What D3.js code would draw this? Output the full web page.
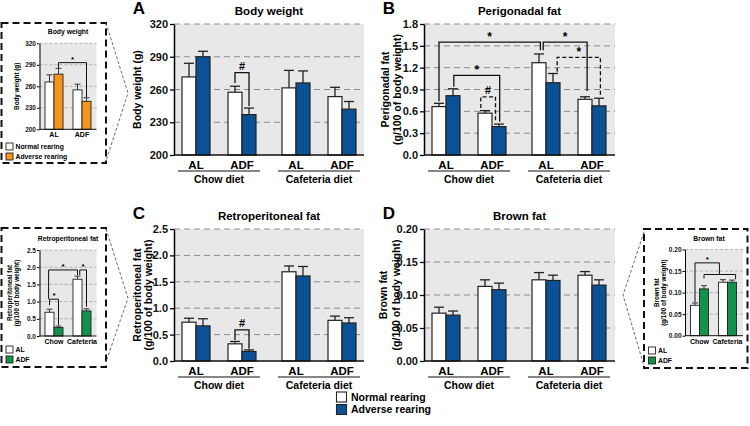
<!DOCTYPE html>
<html>
<head>
<meta charset="utf-8">
<script src="https://cdn.jsdelivr.net/npm/d3@7"></script>
<style>
  body { margin: 0; background: #fff; }
  svg { font-family: Arial, "Liberation Sans", sans-serif; font-weight: bold; }
</style>
</head>
<body>
<svg id="fig" width="750" height="426"></svg>
<script>
// categories
const feeding = ["AL", "ADF"];
const diets = ["Chow diet", "Cafeteria diet"];
const rearing = ["Normal rearing", "Adverse rearing"];
const insetDiets = ["Chow", "Cafeteria"];

// order of values: Chow AL, Chow ADF, Cafeteria AL, Cafeteria ADF
const bwNormal = [271.5, 257.5, 261.5, 253.5];
const bwNormalSem = [12.5, 5.5, 16, 8.5];
const bwAdverse = [290, 237, 266, 242];
const bwAdverseSem = [5, 6, 11, 7];

const periNormal = [0.665, 0.575, 1.268, 0.765];
const periNormalSem = [0.045, 0.035, 0.12, 0.035];
const periAdverse = [0.815, 0.39, 0.993, 0.675];
const periAdverseSem = [0.095, 0.035, 0.127, 0.105];

const retroNormal = [0.735, 0.325, 1.69, 0.77];
const retroNormalSem = [0.075, 0.045, 0.11, 0.08];
const retroAdverse = [0.665, 0.18, 1.61, 0.72];
const retroAdverseSem = [0.135, 0.03, 0.18, 0.1];

const brownNormal = [0.0725, 0.113, 0.123, 0.130];
const brownNormalSem = [0.009, 0.010, 0.011, 0.0055];
const brownAdverse = [0.0695, 0.108, 0.122, 0.115];
const brownAdverseSem = [0.0062, 0.010, 0.008, 0.008];

// insets: two groups each
const inBwNormal = [266, 255], inBwNormalSem = [10, 8];
const inBwAdverse = [277, 239], inBwAdverseSem = [8, 5];
const inRetroAL = [0.69, 1.65], inRetroALSem = [0.09, 0.09];
const inRetroADF = [0.25, 0.73], inRetroADFSem = [0.04, 0.06];
const inBrownAL = [0.0705, 0.124], inBrownALSem = [0.0055, 0.006];
const inBrownADF = [0.1086, 0.124], inBrownADFSem = [0.0074, 0.005];

// significance brackets: a/b = [bar index, series, fraction across bar]
const bwMarks = [
  { a: [1, 0, 0.5], b: [1, 1, 0.5], top: 275.5, legA: 266, legB: 245, label: "#", dash: false }
];
const periMarks = [
  { a: [0, 0, 0.5], b: [2, 0, 0.6], top: 1.552, legA: 0.74, legB: 1.44, label: "*", dash: false },
  { a: [2, 0, 0.8], b: [3, 0, 0.65], top: 1.552, legA: 1.44, legB: 0.88, label: "*", dash: false },
  { a: [2, 1, 0.8], b: [3, 1, 0.6], top: 1.342, legA: 1.144, legB: 0.80, label: "*", dash: true },
  { a: [0, 1, 0.56], b: [1, 1, 0.55], top: 1.095, legA: 0.938, legB: 0.457, label: "*", dash: false },
  { a: [1, 0, 0.2], b: [1, 1, 0.25], top: 0.80, legA: 0.646, legB: 0.457, label: "#", dash: true }
];
const retroMarks = [
  { a: [1, 0, 0.5], b: [1, 1, 0.5], top: 0.59, legA: 0.40, legB: 0.23, label: "#", dash: false }
];
const inBwMarks = [
  { a: [0, 1, 0.5], b: [1, 1, 0.5], top: 293, legA: 285.5, legB: 245, label: "*" }
];
const inRetroMarks = [
  { a: [0, 0, 0.5], b: [0, 1, 0.5], top: 1.07, legA: 0.90, legB: 0.32, label: "*" },
  { a: [0, 0, 0.4], b: [1, 0, 0.5], top: 1.92, legA: 1.07, legB: 1.77, label: "*" },
  { a: [1, 0, 0.75], b: [1, 1, 0.5], top: 1.92, legA: 1.77, legB: 0.85, label: "*" }
];
const inBrownMarks = [
  { a: [0, 0, 0.5], b: [1, 0, 0.1], top: 0.169, legA: 0.078, legB: 0.142, label: "*" },
  { a: [0, 1, 0.5], b: [1, 1, 0.9], top: 0.142, legA: 0.133, legB: 0.131, label: "" }
];

const gray = "#e8e8e8", blue = "#0c5196", orange = "#f7941e", green = "#13924c";

const svg = d3.select("#fig");

function panel(cfg) {
  const g = svg.append("g").attr("transform", `translate(${cfg.left},${cfg.top})`);
  const w = cfg.width, h = cfg.height;
  const y = d3.scaleLinear().domain(cfg.domain).range([h, 0]);
  const ticks = d3.range(cfg.domain[0], cfg.domain[1] + cfg.step / 2, cfg.step);

  g.append("rect").attr("width", w).attr("height", h).attr("fill", gray);
  g.selectAll(".grid").data(ticks.slice(1)).join("line")
    .attr("x1", 0).attr("x2", w)
    .attr("y1", d => y(d)).attr("y2", d => y(d))
    .attr("stroke", "#8c8c8c").attr("stroke-width", 1).attr("stroke-dasharray", "6,4");

  const bw = 14;
  const cx = i => 22 + Math.floor(i / 2) * 100 + (i % 2) * 46;
  const barLeft = (i, k) => cx(i) - bw + k * bw;
  const series = [
    { vals: cfg.normal, sem: cfg.normalSem, fill: "#fff" },
    { vals: cfg.adverse, sem: cfg.adverseSem, fill: blue }
  ];
  series.forEach((s, k) => {
    s.vals.forEach((v, i) => {
      const x0 = barLeft(i, k), xm = x0 + bw / 2;
      g.append("line").attr("x1", xm).attr("x2", xm)
        .attr("y1", y(v)).attr("y2", y(v + s.sem[i])).attr("stroke", "#222").attr("stroke-width", 1.3);
      g.append("line").attr("x1", xm - 5).attr("x2", xm + 5)
        .attr("y1", y(v + s.sem[i])).attr("y2", y(v + s.sem[i])).attr("stroke", "#222").attr("stroke-width", 1.3);
      g.append("rect").attr("x", x0).attr("y", y(v)).attr("width", bw).attr("height", h - y(v))
        .attr("fill", s.fill).attr("stroke", "#222").attr("stroke-width", 1.2);
    });
  });

  const ax = g.append("g").call(d3.axisLeft(y).tickValues(ticks).tickFormat(d3.format(cfg.fmt)).tickSize(4).tickSizeOuter(0));
  ax.select(".domain").attr("stroke-width", 1.5);
  ax.selectAll(".tick line").attr("stroke-width", 1.3);
  ax.selectAll("text").attr("font-size", 11).attr("font-weight", "bold").attr("fill", "#111").attr("x", -6);
  g.append("line").attr("x1", 0).attr("x2", w).attr("y1", h).attr("y2", h).attr("stroke", "#111").attr("stroke-width", 1.5);

  // x labels
  d3.range(4).forEach(i => {
    g.append("text").attr("x", cx(i)).attr("y", h + 13.5).attr("text-anchor", "middle")
      .attr("font-size", 11.5).text(feeding[i % 2]);
  });
  diets.forEach((d, j) => {
    const mid = 22 + j * 100 + 23;
    g.append("line").attr("x1", mid - 41).attr("x2", mid + 41).attr("y1", h + 16).attr("y2", h + 16)
      .attr("stroke", "#111").attr("stroke-width", 1.2);
    g.append("text").attr("x", mid).attr("y", h + 27.5).attr("text-anchor", "middle")
      .attr("font-size", 10.5).text(d);
  });

  // brackets
  const ptx = p => barLeft(p[0], p[1]) + p[2] * bw;
  cfg.marks.forEach(m => {
    const xa = ptx(m.a), xb = ptx(m.b);
    g.append("path")
      .attr("d", `M${xa},${y(m.legA)}V${y(m.top)}H${xb}V${y(m.legB)}`)
      .attr("fill", "none").attr("stroke", "#111").attr("stroke-width", 1.3)
      .attr("stroke-dasharray", m.dash ? "4,2.5" : null);
    g.append("text").attr("x", (xa + xb) / 2).attr("y", y(m.top) - (m.label === "*" ? 1 : 3))
      .attr("text-anchor", "middle").attr("font-size", m.label === "*" ? 12 : 11).text(m.label);
  });

  // titles
  g.append("text").attr("x", w / 2).attr("y", -9).attr("text-anchor", "middle").attr("font-size", 11.5).text(cfg.title);
  g.append("text").attr("x", -35).attr("y", -10).attr("text-anchor", "middle").attr("font-size", 17).text(cfg.letter);
  cfg.ylabel.forEach((t, j) => {
    const xo = cfg.ylabelX[j];
    g.append("text").attr("transform", `translate(${xo},${h / 2}) rotate(-90)`)
      .attr("text-anchor", "middle").attr("dy", "0.35em").attr("font-size", 10.5).text(t);
  });
}

function inset(cfg) {
  const [bx1, by1, bx2, by2] = cfg.box;
  svg.append("rect").attr("x", bx1).attr("y", by1).attr("width", bx2 - bx1).attr("height", by2 - by1)
    .attr("fill", "none").attr("stroke", "#111").attr("stroke-width", 2).attr("stroke-dasharray", "7,4");
  svg.append("path").attr("d", cfg.connector).attr("fill", "none").attr("stroke", "#444")
    .attr("stroke-width", 0.8).attr("stroke-dasharray", "3,2");

  const g = svg.append("g").attr("transform", `translate(${cfg.left},${cfg.top})`);
  const w = cfg.width, h = cfg.height;
  const y = d3.scaleLinear().domain(cfg.domain).range([h, 0]);
  const ticks = d3.range(cfg.domain[0], cfg.domain[1] + cfg.step / 2, cfg.step);

  g.append("rect").attr("width", w).attr("height", h).attr("fill", gray);
  g.selectAll(".grid").data(ticks.slice(1)).join("line")
    .attr("x1", 0).attr("x2", w).attr("y1", d => y(d)).attr("y2", d => y(d))
    .attr("stroke", "#999").attr("stroke-width", 0.7).attr("stroke-dasharray", "3,2");

  const bw = 9;
  const cx = j => 14.5 + j * 28;
  const barLeft = (j, k) => cx(j) - bw + k * bw;
  const series = [
    { vals: cfg.s0, sem: cfg.s0Sem, fill: "#fff" },
    { vals: cfg.s1, sem: cfg.s1Sem, fill: cfg.color }
  ];
  series.forEach((s, k) => {
    s.vals.forEach((v, j) => {
      const x0 = barLeft(j, k), xm = x0 + bw / 2;
      g.append("line").attr("x1", xm).attr("x2", xm).attr("y1", y(v)).attr("y2", y(v + s.sem[j]))
        .attr("stroke", "#222").attr("stroke-width", 0.9);
      g.append("line").attr("x1", xm - 3).attr("x2", xm + 3).attr("y1", y(v + s.sem[j])).attr("y2", y(v + s.sem[j]))
        .attr("stroke", "#222").attr("stroke-width", 0.9);
      g.append("rect").attr("x", x0).attr("y", y(v)).attr("width", bw).attr("height", h - y(v))
        .attr("fill", s.fill).attr("stroke", "#222").attr("stroke-width", 0.9);
    });
  });

  const ax = g.append("g").call(d3.axisLeft(y).tickValues(ticks).tickFormat(d3.format(cfg.fmt)).tickSize(2.5).tickSizeOuter(0));
  ax.selectAll("text").attr("font-size", 6.5).attr("font-weight", "bold").attr("fill", "#111").attr("x", -3.5);
  g.append("line").attr("x1", 0).attr("x2", w).attr("y1", h).attr("y2", h).attr("stroke", "#111").attr("stroke-width", 1);

  cfg.groups.forEach((t, j) => {
    g.append("text").attr("x", cx(j)).attr("y", h + 8).attr("text-anchor", "middle").attr("font-size", 7).text(t);
  });

  const ptx = p => barLeft(p[0], p[1]) + p[2] * bw;
  cfg.marks.forEach(m => {
    const xa = ptx(m.a), xb = ptx(m.b);
    g.append("path").attr("d", `M${xa},${y(m.legA)}V${y(m.top)}H${xb}V${y(m.legB)}`)
      .attr("fill", "none").attr("stroke", "#111").attr("stroke-width", 1);
    if (m.label) g.append("text").attr("x", (xa + xb) / 2).attr("y", y(m.top) - 1)
      .attr("text-anchor", "middle").attr("font-size", 8).text(m.label);
  });

  g.append("text").attr("x", w / 2 + cfg.titleDx).attr("y", -9).attr("text-anchor", "middle").attr("font-size", 6.8).text(cfg.title);
  cfg.ylabel.forEach((t, j) => {
    g.append("text").attr("transform", `translate(${cfg.ylabelX[j]},${h / 2}) rotate(-90)`)
      .attr("text-anchor", "middle").attr("dy", "0.35em").attr("font-size", 6.3).text(t);
  });

  cfg.legend.forEach((t, j) => {
    const ly = cfg.legendY + j * 10;
    svg.append("rect").attr("x", bx1 + 4.5).attr("y", ly - 3.5).attr("width", 7).attr("height", 7)
      .attr("fill", j ? cfg.color : "#fff").attr("stroke", "#222").attr("stroke-width", 0.9);
    svg.append("text").attr("x", bx1 + 14).attr("y", ly).attr("dy", "0.35em").attr("font-size", 6.8).text(t);
  });
}

panel({ left: 174, top: 24, width: 190, height: 131, domain: [200, 320], step: 30, fmt: "d",
  letter: "A", title: "Body weight", ylabel: ["Body weight (g)"], ylabelX: [-37],
  normal: bwNormal, normalSem: bwNormalSem, adverse: bwAdverse, adverseSem: bwAdverseSem, marks: bwMarks });
panel({ left: 424, top: 24, width: 191, height: 131, domain: [0, 1.8], step: 0.3, fmt: ".1f",
  letter: "B", title: "Perigonadal fat", ylabel: ["Perigonadal fat", "(g/100 of body weight)"], ylabelX: [-39, -27],
  normal: periNormal, normalSem: periNormalSem, adverse: periAdverse, adverseSem: periAdverseSem, marks: periMarks });
panel({ left: 174, top: 229, width: 190, height: 132, domain: [0, 2.5], step: 0.5, fmt: ".1f",
  letter: "C", title: "Retroperitoneal fat", ylabel: ["Retroperitoneal fat", "(g/100 of body weight)"], ylabelX: [-37, -26],
  normal: retroNormal, normalSem: retroNormalSem, adverse: retroAdverse, adverseSem: retroAdverseSem, marks: retroMarks });
panel({ left: 424, top: 229, width: 191, height: 132, domain: [0, 0.2], step: 0.05, fmt: ".2f",
  letter: "D", title: "Brown fat", ylabel: ["Brown fat", "(g/100 of body weight)"], ylabelX: [-41, -28],
  normal: brownNormal, normalSem: brownNormalSem, adverse: brownAdverse, adverseSem: brownAdverseSem, marks: []});

inset({ box: [1.5, 23, 106, 163], connector: "M106,23L128,93L106,161",
  left: 39.5, top: 43.3, width: 57, height: 86, domain: [200, 320], step: 30, fmt: "d",
  title: "Body weight", titleDx: 0, ylabel: ["Body weight (g)"], ylabelX: [-23],
  groups: feeding, s0: inBwNormal, s0Sem: inBwNormalSem, s1: inBwAdverse, s1Sem: inBwAdverseSem,
  color: orange, marks: inBwMarks, legend: rearing, legendY: 146.5 });
inset({ box: [1.5, 228, 106, 367], connector: "M106,229L128,298L106,362",
  left: 39.5, top: 250, width: 57, height: 86, domain: [0, 2.5], step: 0.5, fmt: ".1f",
  title: "Retroperitoneal fat", titleDx: 0, ylabel: ["Retroperitoneal fat", "(g/100 of body weight)"], ylabelX: [-30, -23],
  groups: insetDiets, s0: inRetroAL, s0Sem: inRetroALSem, s1: inRetroADF, s1Sem: inRetroADFSem,
  color: green, marks: inRetroMarks, legend: feeding, legendY: 349.5 });
inset({ box: [644, 229, 747.5, 368], connector: "M644,232L623,295L644,366",
  left: 685, top: 249.5, width: 58, height: 86.2, domain: [0, 0.2], step: 0.05, fmt: ".2f",
  title: "Brown fat", titleDx: -5, ylabel: ["Brown fat", "(g/100 of body weight)"], ylabelX: [-28, -21.5],
  groups: insetDiets, s0: inBrownAL, s0Sem: inBrownALSem, s1: inBrownADF, s1Sem: inBrownADFSem,
  color: green, marks: inBrownMarks, legend: feeding, legendY: 350.5 });

// main legend
rearing.forEach((t, j) => {
  const ly = 397 + j * 12.5;
  svg.append("rect").attr("x", 336.5).attr("y", ly - 5).attr("width", 10).attr("height", 10)
    .attr("fill", j ? blue : "#fff").attr("stroke", "#222").attr("stroke-width", 1.1);
  svg.append("text").attr("x", 351).attr("y", ly).attr("dy", "0.35em").attr("font-size", 10.5).text(t);
});
</script>
</body>
</html>
